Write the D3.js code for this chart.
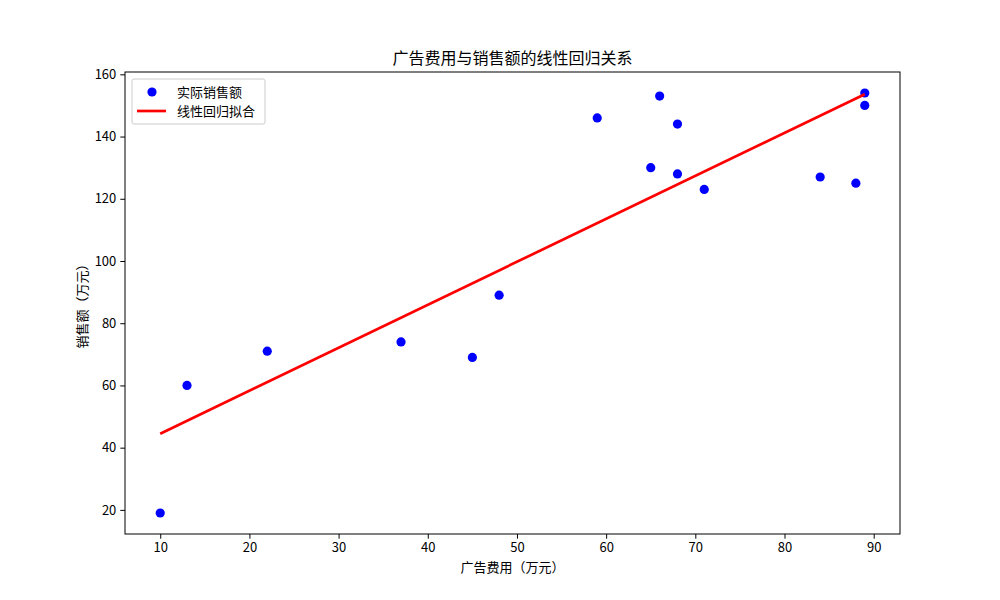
<!DOCTYPE html>
<html>
<head>
<meta charset="utf-8">
<script src="https://cdn.jsdelivr.net/npm/d3@7"></script>
<style>
  body { margin: 0; background: #fff; }
  text { font-family: "Noto Sans CJK SC", "DejaVu Sans", sans-serif; }
</style>
</head>
<body>
<svg id="chart" width="1000" height="600"></svg>
<script>
// data
const adCost = [10, 13, 22, 37, 45, 48, 59, 65, 66, 68, 68, 71, 84, 88, 89, 89];
const sales = [19, 60, 71, 74, 69, 89, 146, 130, 153, 144, 128, 123, 127, 125, 154, 150];
const fitX = [10, 89];
const fitY = [44.5, 153.6];
const xTicks = [10, 20, 30, 40, 50, 60, 70, 80, 90];
const yTicks = [20, 40, 60, 80, 100, 120, 140, 160];

const margin = { left: 125, right: 100, top: 72, bottom: 66 };
const width = 1000, height = 600;

const svg = d3.select("#chart");

const x = d3.scaleLinear().domain([6.05, 92.95]).range([margin.left, width - margin.right]);
const y = d3.scaleLinear().domain([12.25, 160.75]).range([height - margin.bottom, margin.top]);

const points = adCost.map((d, i) => ({ x: d, y: sales[i] }));

// axes
const xAxis = svg.append("g")
  .attr("transform", `translate(0,${height - margin.bottom})`)
  .call(d3.axisBottom(x).tickValues(xTicks).tickSize(4.7).tickPadding(4));
const yAxis = svg.append("g")
  .attr("transform", `translate(${margin.left},0)`)
  .call(d3.axisLeft(y).tickValues(yTicks).tickSize(4.7).tickPadding(4));

[xAxis, yAxis].forEach(a => {
  a.select(".domain").remove();
  a.selectAll("line").attr("stroke", "#000").attr("stroke-width", 1);
  a.selectAll("text").attr("fill", "#000").style("font-size", "13px");
});

// frame
svg.append("rect")
  .attr("x", margin.left).attr("y", margin.top)
  .attr("width", width - margin.left - margin.right)
  .attr("height", height - margin.top - margin.bottom)
  .attr("fill", "none").attr("stroke", "#000").attr("stroke-width", 1);

// scatter
svg.append("g")
  .selectAll("circle")
  .data(points)
  .join("circle")
  .attr("cx", d => x(d.x))
  .attr("cy", d => y(d.y))
  .attr("r", 4.6)
  .attr("fill", "#0000ff");

// fit line
svg.append("path")
  .datum(fitX.map((d, i) => [d, fitY[i]]))
  .attr("fill", "none")
  .attr("stroke", "#ff0000")
  .attr("stroke-width", 2.7)
  .attr("d", d3.line().x(d => x(d[0])).y(d => y(d[1])));

// title + labels
svg.append("text")
  .attr("x", (margin.left + width - margin.right) / 2).attr("y", 64)
  .attr("text-anchor", "middle").style("font-size", "16px")
  .text("广告费用与销售额的线性回归关系");
svg.append("text")
  .attr("x", (margin.left + width - margin.right) / 2).attr("y", 572)
  .attr("text-anchor", "middle").style("font-size", "13px")
  .text("广告费用（万元）");
svg.append("text")
  .attr("transform", `translate(87,${(margin.top + height - margin.bottom) / 2}) rotate(-90)`)
  .attr("text-anchor", "middle").style("font-size", "13px")
  .text("销售额（万元）");

// legend
const lg = svg.append("g").attr("transform", "translate(132,79)");
lg.append("rect")
  .attr("width", 133).attr("height", 45).attr("rx", 2)
  .attr("fill", "#fff").attr("fill-opacity", 0.8)
  .attr("stroke", "#cccccc").attr("stroke-width", 1);
lg.append("circle").attr("cx", 20).attr("cy", 13).attr("r", 4.6).attr("fill", "#0000ff");
lg.append("line").attr("x1", 5).attr("x2", 34).attr("y1", 32).attr("y2", 32)
  .attr("stroke", "#ff0000").attr("stroke-width", 2.7);
lg.append("text").attr("x", 45).attr("y", 18).style("font-size", "13px").text("实际销售额");
lg.append("text").attr("x", 45).attr("y", 37).style("font-size", "13px").text("线性回归拟合");
</script>
</body>
</html>
